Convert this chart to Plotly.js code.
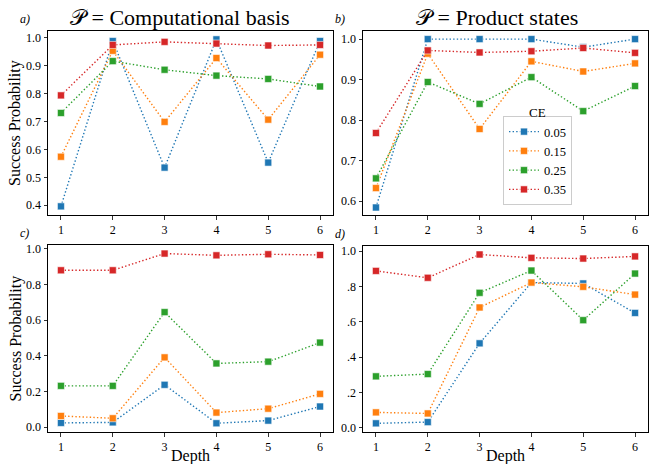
<!DOCTYPE html>
<html>
<head>
<meta charset="utf-8">
<script src="https://cdn.plot.ly/plotly-3.0.1.min.js"></script>
<style>html,body{margin:0;padding:0;background:#fff;}#chart{width:649px;height:464px;}</style>
</head>
<body>
<div id="chart"></div>
<script>
const depth = [1, 2, 3, 4, 5, 6];
const ceLabels = ["0.05", "0.15", "0.25", "0.35"];
const colors = ["#1f77b4", "#ff7f0e", "#2ca02c", "#d62728"];

// a) P = Computational basis
const aVals = [
  [0.396, 0.989, 0.535, 0.995, 0.553, 0.989],
  [0.574, 0.954, 0.699, 0.928, 0.707, 0.940],
  [0.731, 0.917, 0.886, 0.865, 0.853, 0.826],
  [0.794, 0.975, 0.986, 0.980, 0.973, 0.975]
];
// b) P = Product states
const bVals = [
  [0.584, 1.000, 1.000, 1.000, 0.980, 1.000],
  [0.632, 0.964, 0.778, 0.945, 0.920, 0.940],
  [0.656, 0.894, 0.840, 0.906, 0.822, 0.884],
  [0.768, 0.972, 0.967, 0.970, 0.978, 0.966]
];
// c)
const cVals = [
  [0.023, 0.026, 0.237, 0.021, 0.036, 0.115],
  [0.062, 0.049, 0.391, 0.081, 0.103, 0.186],
  [0.231, 0.231, 0.645, 0.357, 0.367, 0.474],
  [0.880, 0.880, 0.974, 0.964, 0.970, 0.966]
];
// d)
const dVals = [
  [0.025, 0.032, 0.478, 0.822, 0.817, 0.650],
  [0.087, 0.081, 0.681, 0.822, 0.798, 0.754],
  [0.291, 0.304, 0.764, 0.890, 0.609, 0.873],
  [0.888, 0.849, 0.981, 0.962, 0.958, 0.970]
];
const titles = ["𝒫 = Computational basis", "𝒫 = Product states"];
const panelLabels = ["a)", "b)", "c)", "d)"];
const xTitle = "Depth";
const yTitle = "Success Probability";
const legendTitle = "CE";
const dTickVals = [0, 0.2, 0.4, 0.6, 0.8, 1.0];
const dTickText = ["0.0", ".2", ".4", ".6", ".8", "1.0"];

const W = 649, H = 464;
const panels = [
  {vals: aVals, xa: "x", ya: "y", box: [48, 333, 31, 215], yr: [0.365, 1.025], tc: 180},
  {vals: bVals, xa: "x2", ya: "y2", box: [363, 648, 31, 215], yr: [0.5655, 1.02], tc: 497},
  {vals: cVals, xa: "x3", ya: "y3", box: [48, 333, 245, 432], yr: [-0.028, 1.022]},
  {vals: dVals, xa: "x4", ya: "y4", box: [363, 648, 246, 432], yr: [-0.024, 1.029]}
];

const font = "Liberation Serif";
const traces = [];
panels.forEach((p, pi) => {
  p.vals.forEach((v, si) => {
    traces.push({
      x: depth, y: v, xaxis: p.xa, yaxis: p.ya,
      type: "scatter", mode: "lines+markers",
      name: ceLabels[si], legendgroup: ceLabels[si],
      showlegend: pi === 1,
      line: {color: colors[si], dash: "1.4px,2.2px", width: 1.4},
      marker: {symbol: "square", size: 7, color: colors[si], line: {color: "rgba(255,255,255,0.55)", width: 1}}
    });
  });
});

const layout = {
  width: W, height: H,
  margin: {l: 0, r: 0, t: 0, b: 0},
  paper_bgcolor: "#fff", plot_bgcolor: "#fff",
  font: {family: font, size: 12, color: "#000"},
  showlegend: true,
  legend: {
    x: 503 / W, y: 1 - 116 / H, xanchor: "left", yanchor: "top",
    bgcolor: "rgba(255,255,255,0.85)", bordercolor: "#cccccc", borderwidth: 1,
    font: {family: font, size: 12.5, color: "#000"},
    itemwidth: 30, tracegroupgap: 0
  },
  annotations: [],
  shapes: []
};

panels.forEach((p, pi) => {
  const sfx = pi === 0 ? "" : String(pi + 1);
  const [l, r, t, b] = p.box;
  layout["xaxis" + sfx] = {
    domain: [l / W, r / W], anchor: "y" + sfx, range: [0.75, 6.25],
    tickvals: depth, ticks: "outside", ticklen: 3.5, tickwidth: 0.8, tickcolor: "#000",
    showline: true, mirror: true, linecolor: "#000", linewidth: 1,
    showgrid: false, zeroline: false, automargin: false,
    tickfont: {family: font, size: 12, color: "#000"}
  };
  const ya = {
    domain: [1 - b / H, 1 - t / H], anchor: "x" + sfx, range: p.yr,
    ticks: "outside", ticklen: 3.5, tickwidth: 0.8, tickcolor: "#000",
    showline: true, mirror: true, linecolor: "#000", linewidth: 1,
    showgrid: false, zeroline: false, automargin: false,
    tickfont: {family: font, size: 12, color: "#000"}
  };
  if (pi === 0) { ya.tickvals = [0.4, 0.5, 0.6, 0.7, 0.8, 0.9, 1.0]; ya.tickformat = ".1f"; }
  if (pi === 1) { ya.tickvals = [0.6, 0.7, 0.8, 0.9, 1.0]; ya.tickformat = ".1f"; }
  if (pi === 2) { ya.tickvals = dTickVals; ya.tickformat = ".1f"; }
  if (pi === 3) { ya.tickvals = dTickVals; ya.ticktext = dTickText; }
  layout["yaxis" + sfx] = ya;

  layout.annotations.push({
    text: "<i>" + panelLabels[pi] + "</i>", xref: "paper", yref: "paper",
    x: (l - 30) / W, y: 1 - (t - 12) / H, xanchor: "left", yanchor: "middle",
    showarrow: false, font: {family: font, size: 12}
  });
  if (pi < 2) {
    layout.annotations.push({
      text: titles[pi], xref: "paper", yref: "paper",
      x: p.tc / W, y: 1 - 17 / H, xanchor: "center", yanchor: "middle",
      showarrow: false, font: {family: font, size: 22}
    });
  }
  if (pi >= 2) {
    layout.annotations.push({
      text: xTitle, xref: "paper", yref: "paper",
      x: (l + r) / 2 / W, y: 1 - 456 / H, xanchor: "center", yanchor: "middle",
      showarrow: false, font: {family: font, size: 16}
    });
  }
  if (pi === 0 || pi === 2) {
    layout.annotations.push({
      text: yTitle, xref: "paper", yref: "paper", textangle: -90,
      x: 15 / W, y: 1 - (t + b) / 2 / H, xanchor: "center", yanchor: "middle",
      showarrow: false, font: {family: font, size: 16}
    });
  }
});

layout.annotations.push({
  text: legendTitle, xref: "paper", yref: "paper",
  x: 537 / W, y: 1 - 113 / H, xanchor: "center", yanchor: "middle",
  showarrow: false, font: {family: font, size: 13}
});

Plotly.newPlot("chart", traces, layout, {displayModeBar: false, staticPlot: true});
</script>
</body>
</html>
